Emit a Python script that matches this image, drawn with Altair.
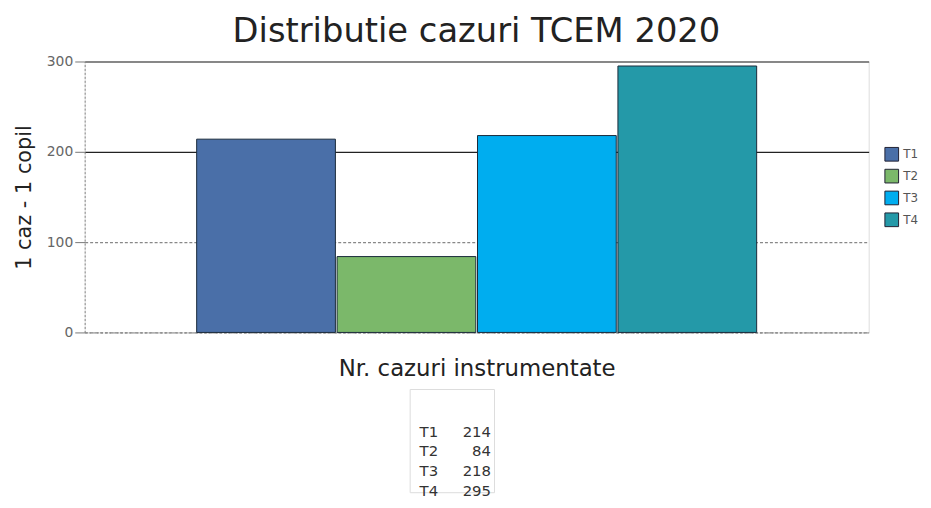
import altair as alt
import pandas as pd

categories = ["T1", "T2", "T3", "T4"]
values = [214, 84, 218, 295]
colors = ["#4a6fa8", "#7bb86a", "#00adef", "#2499a8"]
group_label = "Nr. cazuri instrumentate"

df = pd.DataFrame({"grp": [group_label] * 4, "serie": categories, "val": values})

FONT = "DejaVu Sans"

bars = alt.Chart(df).mark_bar(stroke="#1a2a3a", strokeWidth=1).encode(
    x=alt.X("grp:N", title=group_label,
            scale=alt.Scale(paddingOuter=0.2, paddingInner=0),
            axis=alt.Axis(labels=False, ticks=False, domain=True, domainColor="#888",
                          domainDash=[2, 2], titleFontSize=23, titleFontWeight="normal",
                          titleColor="#222", titlePadding=25, titleFont=FONT)),
    xOffset=alt.XOffset("serie:N", scale=alt.Scale(paddingInner=0.012)),
    y=alt.Y("val:Q", title="1 caz - 1 copil",
            scale=alt.Scale(domain=[0, 300]),
            axis=alt.Axis(values=[0, 100, 200, 300], tickSize=10, tickColor="#777",
                          labelColor="#666", labelFontSize=14, labelFont=FONT,
                          domainColor="#888", domainDash=[2, 2],
                          gridColor={"condition": {"test": "datum.value >= 200", "value": "#222"}, "value": "#888"},
                          gridDash={"condition": {"test": "datum.value >= 200", "value": []}, "value": [3, 2]},
                          gridWidth=1.2,
                          titleFontSize=21, titleFontWeight="normal", titleColor="#222",
                          titleFont=FONT, titlePadding=12)),
    color=alt.Color("serie:N", scale=alt.Scale(domain=categories, range=colors),
                    legend=alt.Legend(title=None, symbolType="square", symbolSize=190,
                                      symbolStrokeColor="#223", symbolStrokeWidth=1,
                                      labelFontSize=12, labelColor="#555", labelFont=FONT,
                                      rowPadding=3, orient="none", legendX=806, legendY=86,
                                      padding=0)),
).properties(width=790, height=273)

tdf = pd.DataFrame({"serie": categories, "val": [str(v) for v in values]})
ybase = alt.Y("serie:N", axis=None,
              scale=alt.Scale(type="band", domain=categories, paddingOuter=0.6, paddingInner=0))
t_lab = alt.Chart(tdf).mark_text(align="left", fontSize=15, font=FONT, color="#333", dy=21).encode(
    y=ybase, text="serie:N", x=alt.value(10))
t_val = alt.Chart(tdf).mark_text(align="right", fontSize=15, font=FONT, color="#333", dy=21).encode(
    y=ybase, text="val:N", x=alt.value(82))
# invisible copy that only widens the table's bounds so it sits where the reference has it
t_pad = alt.Chart(tdf).mark_text(align="right", fontSize=15, font=FONT, opacity=0, dy=21).encode(
    y=ybase, text="val:N", x=alt.value(135))
table = alt.layer(t_lab, t_val, t_pad).properties(width=85, height=alt.Step(20))

chart = alt.vconcat(bars, table, spacing=7, center=True).properties(
    title=alt.TitleParams("Distributie cazuri TCEM 2020", fontSize=34, font=FONT,
                          fontWeight="normal", color="#222", offset=5, anchor="middle", dx=11)
).configure_view(stroke="#999", strokeDash=[2, 2]).configure(background="white")

chart.save("out.html", embed_options={"renderer": "svg", "actions": False})
